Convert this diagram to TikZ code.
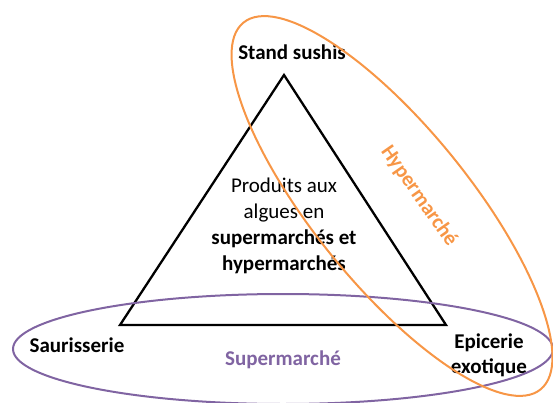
\documentclass[tikz,border=0pt]{standalone}
\usepackage{fontspec}
\setmainfont{Carlito}
\usetikzlibrary{positioning}
\definecolor{hyperorange}{RGB}{247,150,70}
\definecolor{superpurple}{RGB}{128,100,162}

\begin{document}
\begin{tikzpicture}[
	x=1pt, y=-1pt,
	label/.style={font=\fontsize{21}{25}\selectfont\bfseries, align=center, inner sep=0pt},
	zone/.style={draw, line width=2pt},
	]
	\useasboundingbox (0,0) rectangle (553,403);
	
	\coordinate (top) at (284,75);
	\coordinate (left) at (120,325);
	\coordinate (right) at (446,325);
	\draw [line width=2.3pt, line join=miter] (top) -- (left) -- (right) -- cycle;
	
	\node [label] (stand) at (292,52) {Stand sushis};
	\node [label] (saur) at (77,345) {Saurisserie};
	\node [label] (epic) at (489,355) {Epicerie\\exotique};
	\node [align=center, inner sep=0pt, font=\fontsize{21}{26}\selectfont] (prod) at (284,226)
		{Produits aux\\algues en\\\textbf{supermarchés et}\\\textbf{hypermarchés}};
	\node [label, text=superpurple] (super) at (283,360) {Supermarché};
	\node [label, text=hyperorange, rotate=-55] (hyper) at (419,196) {Hypermarché};
	
	\draw [zone, superpurple] (283,349) ellipse [x radius=270, y radius=55];
	\draw [zone, hyperorange, rotate around={-51:(392,206)}] (392,206) ellipse [x radius=236, y radius=78];
\end{tikzpicture}
\end{document}
